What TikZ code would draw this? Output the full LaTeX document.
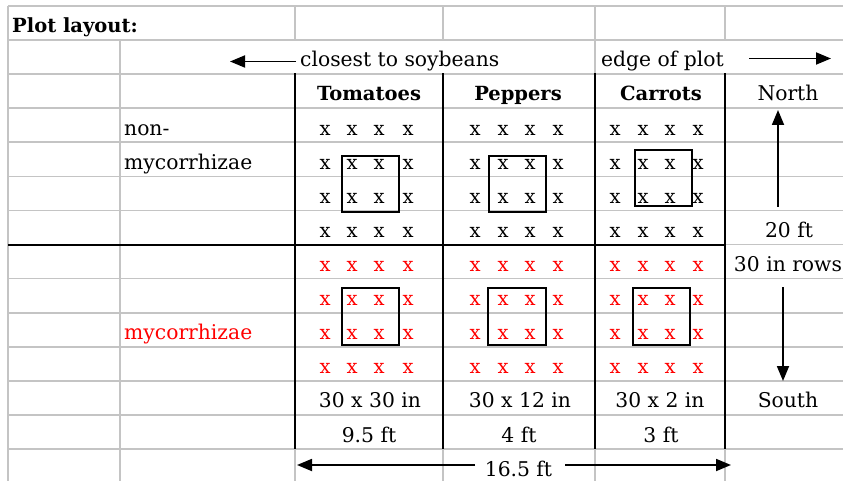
\documentclass[tikz,border=0pt]{standalone}
\usepackage{fontspec}
\setmainfont{DejaVu Serif}
\usetikzlibrary{arrows.meta}
\definecolor{gridgray}{RGB}{196,196,196}
\begin{document}
\begin{tikzpicture}[x=1pt,y=-1pt,
  txt/.style={inner sep=0pt,font=\fontsize{20.3}{24}\selectfont},
  hdr/.style={inner sep=0pt,font=\fontsize{19.5}{23}\selectfont\bfseries},
  gridline/.style={draw=gridgray,line width=1.7pt},
  plotline/.style={draw=black,line width=2pt},
  arr/.style={draw=black,line width=1.8pt,-{Triangle[length=15pt,width=12pt]}},
  xmark/.style={inner sep=0pt,font=\fontsize{19.5}{23}\selectfont,anchor=base},
  boxline/.style={draw=black,line width=1.8pt}]
\useasboundingbox (0,0) rectangle (843,481);
\fill[white] (0,0) rectangle (843,481);
% spreadsheet grid
\foreach \i in {0,...,13} \draw[gridline] (8,{6+34.08*\i}) -- (843,{6+34.08*\i});
\draw[gridline] (8,6) -- (8,481);
\draw[gridline] (120,40) -- (120,481);
\foreach \gx in {295,443} {
  \draw[gridline] (\gx,6) -- (\gx,40);
  \draw[gridline] (\gx,74) -- (\gx,481);
}
\draw[gridline] (595,6) -- (595,481);
\draw[gridline] (725,6) -- (725,40);
\draw[gridline] (725,74) -- (725,481);
% plot borders
\foreach \bx in {295,443,595,725} \draw[plotline] (\bx,73.5) -- (\bx,449);
\draw[plotline] (8,244.5) -- (725,244.5);
% plant marks
\foreach \cx in {325,352,379,408,475,503,530,558,615,643,670,698} {
  \foreach \r in {3,...,6} \node[xmark] (xb-\cx-\r) at (\cx,{33+34.08*\r}) {x};
  \foreach \r in {7,...,10} \node[xmark,text=red] (xr-\cx-\r) at (\cx,{33+34.08*\r}) {x};
}
% sampling boxes
\draw[boxline] (342,156) rectangle (399,212);
\draw[boxline] (489,156) rectangle (546,212);
\draw[boxline] (635,150) rectangle (692,206);
\draw[boxline] (342,288) rectangle (399,345);
\draw[boxline] (488,288) rectangle (546,345);
\draw[boxline] (633,288) rectangle (690,345);
% texts
\node[hdr,anchor=base west] (title) at (12,33) {Plot layout:};
\node[txt,anchor=base west] (closest) at (300,67) {closest to soybeans};
\node[txt,anchor=base west] (edge) at (601,67) {edge of plot};
\node[hdr,anchor=base] (tom) at (369,101) {Tomatoes};
\node[hdr,anchor=base] (pep) at (518,101) {Peppers};
\node[hdr,anchor=base] (car) at (661,101) {Carrots};
\node[txt,anchor=base] (north) at (788,101) {North};
\node[txt,anchor=base west] (non) at (124,135.2) {non-};
\node[txt,anchor=base west] (mycA) at (124,169.3) {mycorrhizae};
\node[txt,anchor=base west,text=red] (mycB) at (124,339.8) {mycorrhizae};
\node[txt,anchor=base] (ft20) at (789,237.6) {20 ft};
\node[txt,anchor=base] (rows30) at (788,271.6) {30 in rows};
\node[txt,anchor=base] (south) at (788,407.9) {South};
\node[txt,anchor=base] (sztom) at (370,407.9) {30 x 30 in};
\node[txt,anchor=base] (szpep) at (520,407.9) {30 x 12 in};
\node[txt,anchor=base] (szcar) at (660,407.9) {30 x 2 in};
\node[txt,anchor=base] (lntom) at (369,442) {9.5 ft};
\node[txt,anchor=base] (lnpep) at (519,442) {4 ft};
\node[txt,anchor=base] (lncar) at (661,442) {3 ft};
\node[txt,anchor=base] (len) at (518.5,476) {16.5 ft};
% arrows
\coordinate (soytail) at (296,61.5);
\coordinate (soytip) at (230,61.5);
\coordinate (edgetail) at (749,58.5);
\coordinate (edgetip) at (831,58.5);
\coordinate (ntail) at (778,207);
\coordinate (ntip) at (778,110);
\coordinate (stail) at (783,287);
\coordinate (stip) at (783,381);
\coordinate (lenLtail) at (475,465);
\coordinate (lenLtip) at (297,465);
\coordinate (lenRtail) at (565,465);
\coordinate (lenRtip) at (731,465);
\draw[arr] (soytail) -- (soytip);
\draw[arr] (edgetail) -- (edgetip);
\draw[arr] (ntail) -- (ntip);
\draw[arr] (stail) -- (stip);
\draw[arr] (lenLtail) -- (lenLtip);
\draw[arr] (lenRtail) -- (lenRtip);
\end{tikzpicture}
\end{document}
